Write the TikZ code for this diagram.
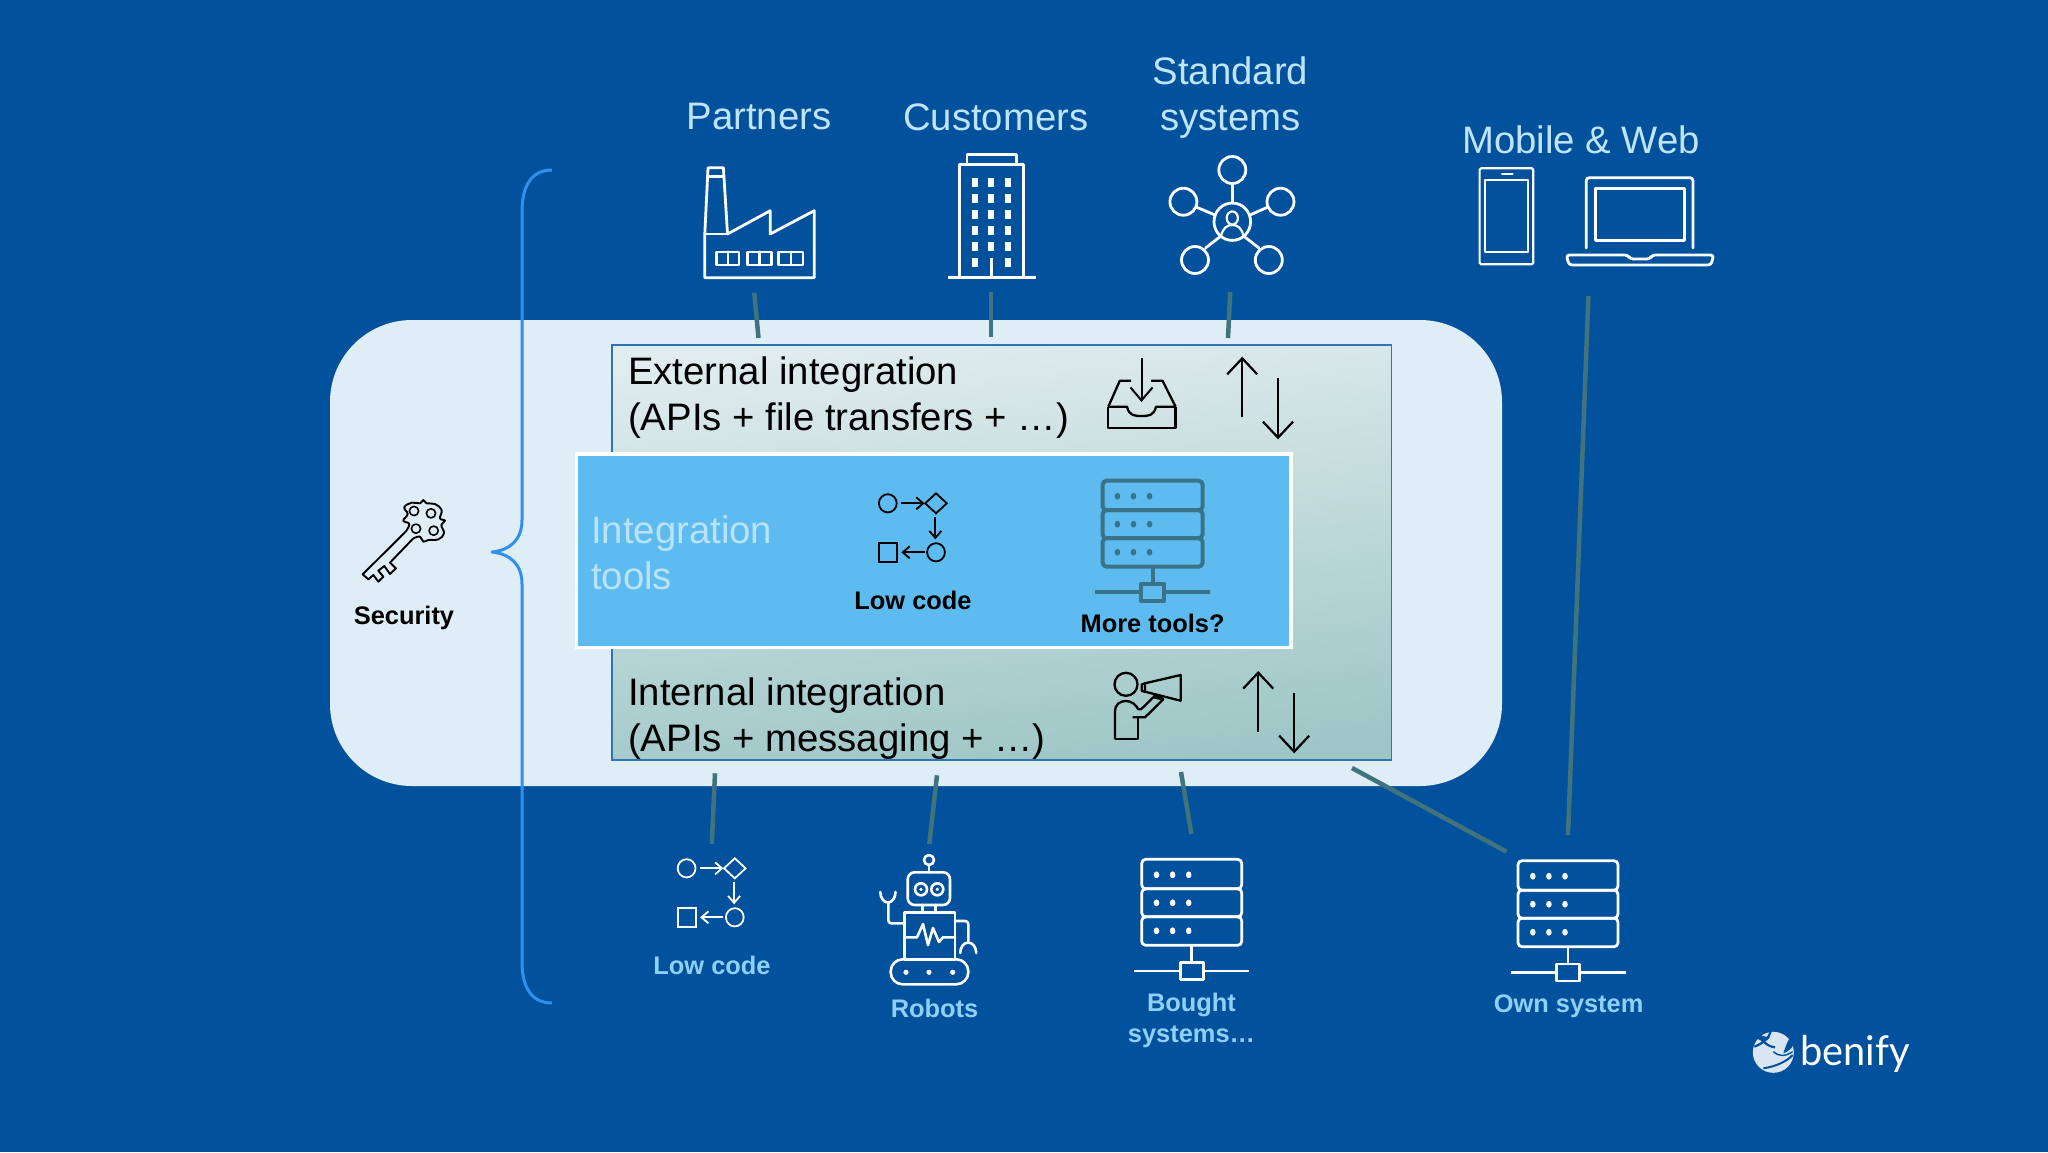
\documentclass[tikz,border=0pt]{standalone}
\usepackage{fontspec}
\setmainfont{Liberation Sans}
\newfontfamily\logofont{Lato}
\usetikzlibrary{arrows.meta}
\definecolor{bgblue}{HTML}{02519C}
\definecolor{panelc}{HTML}{DEEDF6}
\definecolor{innerblue}{HTML}{5EBBEF}
\definecolor{linkc}{HTML}{41737D}
\definecolor{bracec}{HTML}{2F90EE}
\definecolor{toptext}{HTML}{BFE4FB}
\definecolor{lowtext}{HTML}{8FD0F8}
\definecolor{inttext}{HTML}{B9E3F9}
\definecolor{srvteal}{HTML}{3A7387}
\definecolor{framec}{HTML}{2E75B6}
\definecolor{gradtop}{RGB}{224,236,237}
\definecolor{gradbot}{RGB}{158,198,198}
\tikzset{
  big/.style={font=\fontsize{38.3}{46}\selectfont,inner sep=0pt,align=center},
  small/.style={font=\bfseries\fontsize{25.4}{30.5}\selectfont,inner sep=0pt,align=center},
  link/.style={draw=linkc,line width=4.5pt},
  wicon/.style={color=white,line width=2.8pt,line join=round,line cap=round},
  kicon/.style={color=black,line width=2.3pt,line join=round},
  sicon/.style={color=srvteal,line width=4pt,line join=round},
  flowW/.style={color=white,line width=1.8pt},
  flowK/.style={color=black,line width=1.8pt},
  updown/.style={color=black,line width=2.2pt,-{Straight Barb[length=16pt,width=30pt,line width=2.2pt]}},
  smallarrow/.style={-{Straight Barb[length=7pt,width=12pt]}},
}
% server icon: origin = centre x, top y
\newcommand{\srvicon}{%
  \draw[rounded corners=4pt] (-50,0) rectangle (50,29.5);
  \draw[rounded corners=4pt] (-50,29.5) rectangle (50,57.5);
  \draw[rounded corners=4pt] (-50,57.5) rectangle (50,86);
  \foreach \yy in {15.5,43.5,71.5}{\foreach \xx in {-35.2,-19.1,-3}{\fill (\xx,\yy) ellipse (2.8pt and 3.4pt);}}
  \draw (0,86) -- (0,103.3);
  \draw (-57.5,111.6) -- (-11.5,111.6) (11.5,111.6) -- (57.5,111.6);
  \draw (-11.5,103.3) rectangle (11.5,120.3);
}
% flow icon: origin at first circle centre
\newcommand{\flowicon}{%
  \draw (0,0) ellipse (8.9pt and 9.1pt);
  \draw[smallarrow] (13.5,0) -- (36.8,0);
  \draw (48.2,-10) -- (59,0) -- (48.2,10) -- (37.4,0) -- cycle;
  \draw[smallarrow] (47.5,13.4) -- (47.5,36);
  \draw (48.2,49) ellipse (8.9pt and 9.1pt);
  \draw[smallarrow] (36.8,49) -- (13.5,49);
  \draw (-8.8,39.4) rectangle (9,58.4);
}
\begin{document}
\begin{tikzpicture}[x=1pt,y=-1pt]
\useasboundingbox (0,0) rectangle (2048,1152);
\fill[bgblue] (0,0) rectangle (2048,1152);
% central panel
\path[fill=panelc,rounded corners=82pt] (330,320) rectangle (1502,786);
% gradient frame
\shade[top color=gradtop,bottom color=gradbot,shading angle=6]
  (612,345) rectangle (1391.5,760);
\draw[framec,line width=1.4pt] (612,345) rectangle (1391.5,760);
% inner blue box
\node[draw=white,fill=innerblue,line width=3.5pt,minimum width=714.5pt,minimum height=193.5pt,inner sep=0pt,outer sep=0pt,anchor=north west] (toolsbox) at (576.5,454) {};
% brace
\draw[bracec,line width=3pt,line join=round] (552,170) .. controls (532,170) and (522,185) .. (522,212) -- (522,520)
  .. controls (522,540) and (510,550) .. (492,552) .. controls (510,554) and (522,564) .. (522,584)
  -- (522,962) .. controls (522,988) and (532,1003) .. (552,1003);
% coordinates for connector ends
\coordinate (pA) at (754.3,293); \coordinate (pB) at (758.5,338);
\coordinate (cA) at (991,292); \coordinate (cB) at (991,337);
\coordinate (sA) at (1230.2,292); \coordinate (sB) at (1228,338);
\coordinate (mA) at (1588.4,296); \coordinate (mB) at (1568,835);
\coordinate (lA) at (715,773.3); \coordinate (lB) at (711.8,844);
\coordinate (rA) at (937,775.3); \coordinate (rB) at (929.3,844);
\coordinate (bA) at (1181,772); \coordinate (bB) at (1191.4,834);
\coordinate (oA) at (1352,768); \coordinate (oB) at (1506.5,851.7);
\draw[link] (pA) -- (pB);
\draw[link] (cA) -- (cB);
\draw[link] (sA) -- (sB);
\draw[link] (mA) -- (mB);
\draw[link] (lA) -- (lB);
\draw[link] (rA) -- (rB);
\draw[link] (bA) -- (bB);
\draw[link] (oA) -- (oB);
% top labels
\node[big,toptext,anchor=base] (partners) at (759,129) {Partners};
\node[big,toptext,anchor=base] (customers) at (995.8,130) {Customers};
\node[big,toptext,anchor=base] (standard) at (1230.5,130) {Standard\\systems};
\node[big,toptext,anchor=base] (mobile) at (1581,153) {Mobile \& Web};
% frame texts
\node[big,black,align=left,anchor=base west] (ext) at (628,430) {External integration\\(APIs + file transfers + …)};
\node[big,black,align=left,anchor=base west] (int) at (628,751) {Internal integration\\(APIs + messaging + …)};
\node[big,inttext,align=left,anchor=base west] (tools) at (591,589) {Integration\\tools};
% small labels
\node[small,black,anchor=base] (security) at (404,624) {Security};
\node[small,black,anchor=base] (lowcodeA) at (913,609) {Low code};
\node[small,black,anchor=base] (more) at (1152.6,632) {More tools?};
\node[small,lowtext,anchor=base] (lowcodeB) at (712,974) {Low code};
\node[small,lowtext,anchor=base] (robots) at (934.5,1017) {Robots};
\node[small,lowtext,anchor=base] (bought) at (1191.5,1042) {Bought\\systems…};
\node[small,lowtext,anchor=base] (own) at (1568.6,1012) {Own system};
% factory
\begin{scope}[wicon]
\draw (727.5,234) -- (723.4,167.7) -- (708,167.7) -- (704.8,234) -- (704.8,277.7) -- (814.3,277.7) -- (814.3,210.7) -- (770.2,234) -- (770.2,210.7) -- (727.5,234) -- cycle;
\draw (705.5,234) -- (727.5,234) (707.5,176.7) -- (723.8,176.7);
\draw[line width=2.4pt] (716.5,251.7) rectangle (739.2,265) (727.8,251.7) -- (727.8,265);
\draw[line width=2.4pt] (747.5,251.7) rectangle (771.6,265) (759.5,251.7) -- (759.5,265);
\draw[line width=2.4pt] (778.5,251.7) rectangle (803.2,265) (790.8,251.7) -- (790.8,265);
\end{scope}
% building
\begin{scope}[wicon]
\draw (959.6,277.7) -- (959.6,164.3) -- (1023.6,164.3) -- (1023.6,277.7);
\draw (967,164.3) -- (967,154.3) -- (1016.8,154.3) -- (1016.8,164.3);
\draw[line width=3.4pt,line cap=butt] (947.9,277.7) -- (1036,277.7);
\draw[line width=3.4pt,line cap=butt] (991.3,258) -- (991.3,277.7);
\foreach \yy in {182.7,198.7,214.7,230.7,246.7,262.7}{
  \fill (972.4,\yy-4.7) rectangle (978.4,\yy+4.7);
  \fill (1004.8,\yy-4.7) rectangle (1010.8,\yy+4.7);}
\foreach \yy in {182.7,198.7,214.7,230.7,246.7}{
  \fill (988.3,\yy-4.7) rectangle (994.3,\yy+4.7);}
\end{scope}
% network
\begin{scope}[wicon]
\draw (1232.3,221.7) ellipse (18.3pt and 18.7pt);
\foreach \cx/\cy in {1232.3/170,1183.4/201.7,1280.5/201.7,1195/260,1268.8/260}{\draw (\cx,\cy) circle (13.5pt);}
\draw (1232.3,184) -- (1232.3,203);
\draw (1196,207) -- (1215,215);
\draw (1268,207) -- (1250,215);
\draw (1205.5,248) -- (1221,236);
\draw (1259,248) -- (1243.5,236);
\draw[line width=2.2pt] (1232.3,218) ellipse (5.6pt and 6.6pt);
\draw[line width=2.2pt] (1221,236) .. controls (1223,228) and (1227,225) .. (1232.3,225) .. controls (1238,225) and (1241.5,228) .. (1243.5,236);
\end{scope}
% phone and laptop
\begin{scope}[wicon,line width=2.2pt]
\draw[rounded corners=1.5pt] (1479.6,168.3) rectangle (1533.3,264.3);
\draw (1485,180) rectangle (1527.8,251.7);
\draw (1502,174) -- (1512.5,174);
\draw[line width=2.8pt] (1586.3,248) -- (1586.3,181) [rounded corners=3pt] -- (1586.3,177.7) -- (1693,177.7) -- (1693,248);
\draw[line width=2.8pt] (1595.3,188.3) rectangle (1684.8,240.7);
\draw[line width=2.8pt,rounded corners=3pt] (1566.3,255) -- (1628,255) -- (1630,259) -- (1650,259) -- (1652,255) -- (1713.7,255) -- (1711,265) -- (1569,265) -- cycle;
\end{scope}
% inbox
\begin{scope}[kicon]
\draw (1108.3,406.7) -- (1108.3,428.3) -- (1175.6,428.3) -- (1175.6,406.7);
\draw (1108.3,406.7) -- (1119.8,380.7) -- (1131,380.7);
\draw (1175.6,406.7) -- (1162.5,380.7) -- (1151,380.7);
\draw (1108.3,406.7) -- (1127,406.7) .. controls (1129,416) and (1135,416) .. (1141.5,416) .. controls (1148,416) and (1154,416) .. (1156,406.7) -- (1175.6,406.7);
\draw[line width=2pt,-{Straight Barb[length=13pt,width=22pt,line width=2pt]}] (1141.5,358.3) -- (1141.5,402);
\end{scope}
% up down arrows
\coordinate (uA) at (1242.2,417.3); \coordinate (uB) at (1242.2,356.7);
\coordinate (dA) at (1278,378.3); \coordinate (dB) at (1278,439.3);
\coordinate (vA) at (1258.2,732.3); \coordinate (vB) at (1258.2,671);
\coordinate (wA) at (1294.2,692.7); \coordinate (wB) at (1294.2,753.3);
\draw[updown] (uA) -- (uB);
\draw[updown] (dA) -- (dB);
\draw[updown] (vA) -- (vB);
\draw[updown] (wA) -- (wB);
% megaphone person
\begin{scope}[kicon]
\draw (1126,684.3) circle (11.5pt);
\draw (1115,739.3) -- (1115,712) .. controls (1115,704) and (1120,701) .. (1126,701) .. controls (1132,701) and (1136,705) .. (1138.3,709.3) -- (1141,709.3) -- (1153.3,697.3) -- (1163.3,699.3) -- (1145,717.3) -- (1132.7,717.3);
\draw (1137.7,717.3) -- (1137.7,739.3) -- (1115,739.3);
\draw (1145,683.3) -- (1180.7,675) -- (1180.7,700.7) -- (1145,691.7) -- cycle;
\draw (1145,683.3) -- (1141.7,684.5) -- (1141.7,691) -- (1145,691.7);
\draw (1153.5,695) -- (1163.5,699);
\end{scope}
% flow icons
\begin{scope}[shift={(887.8,503.3)},flowK] \flowicon \end{scope}
\begin{scope}[shift={(686.6,868.3)},flowW] \flowicon \end{scope}
% servers
\begin{scope}[shift={(1152.6,480.7)},sicon] \srvicon \end{scope}
\begin{scope}[shift={(1191.7,859.3)},wicon,line cap=butt] \srvicon \end{scope}
\begin{scope}[shift={(1568,860.7)},wicon,line cap=butt] \srvicon \end{scope}
% robot
\begin{scope}[wicon,line width=2.6pt]
\draw (929,860) circle (5pt);
\draw (929,865) -- (929,872.3);
\draw[rounded corners=7pt] (907.7,872.3) rectangle (950,905);
\draw (921,889.3) circle (6pt) (937.3,889.3) circle (6pt);
\fill (921,889.3) circle (1.8pt) (937.3,889.3) circle (1.8pt);
\draw (922.3,905) -- (922.3,912.7) (935.7,905) -- (935.7,912.7);
\draw (904.3,912.7) rectangle (955,959.3);
\draw (904.3,937.3) -- (917,937.3) -- (923,924) -- (928,945) -- (933,928) -- (939,942) -- (943,937.3) -- (955,937.3);
\draw[rounded corners=12pt] (890.7,959.3) rectangle (968.3,984.3);
\foreach \xx in {906,929,952.7}{\fill (\xx,972.3) circle (2.6pt);}
\draw (904.3,923.3) -- (892,923.3) [rounded corners=3pt] -- (888.3,923.3) -- (888.3,903);
\draw (880.3,892) arc[start angle=180,end angle=360,x radius=7.6pt,y radius=10.5pt];
\draw (955,921) -- (964,921) [rounded corners=3pt] -- (968.3,921) -- (968.3,942);
\draw (960.2,953) arc[start angle=180,end angle=0,x radius=8pt,y radius=10.5pt];
\end{scope}
% key
\begin{scope}[color=black,line width=1.9pt,line join=round,shift={(340,480)},x=0.3333pt,y=-0.3333pt]
\draw plot[smooth,tension=0.7] coordinates {(197,155) (208,132) (190,122) (203,102) (193,82) (215,68) (240,70) (250,60) (260,70) (285,72) (305,90) (300,115) (315,122) (304,135) (312,160) (295,178) (265,180) (250,185) (240,170) (220,175)};
\draw (197,155) -- (68,283) -- (85,298) -- (100,285) -- (115,305) -- (130,290) -- (115,272) -- (133,258) -- (150,282) -- (168,265) -- (150,248) -- (220,175);
\draw[line width=1.6pt] (222,93) circle (4.6pt) (273,100) circle (4.6pt) (228,146) circle (4.6pt) (281,152) circle (4.6pt);
\end{scope}
% logo
\begin{scope}[shift={(1720,1010)},x=0.3333pt,y=-0.3333pt]
\fill[white!85!bgblue] (160,127) ellipse (20.5pt and 20.5pt);
\draw[bgblue,line width=2.2pt] (103,110) .. controls (130,100) and (145,85) .. (152,66);
\draw[bgblue,line width=2.2pt] (118,78) .. controls (125,95) and (150,112) .. (165,112);
\fill[bgblue] (110,85) .. controls (125,95) and (140,98) .. (150,82) .. controls (135,80) and (125,78) .. (118,72) -- cycle;
\fill[bgblue] (220,105) .. controls (215,115) and (205,125) .. (190,130) .. controls (195,115) and (200,100) .. (208,85) -- cycle;
\draw[bgblue,line width=2pt] (130,175) .. controls (165,170) and (200,155) .. (218,135);
\draw[bgblue,line width=1.4pt] (160,125) .. controls (175,140) and (195,140) .. (218,125);
\end{scope}
\node[font=\logofont\fontsize{41}{41}\selectfont,white,inner sep=0pt,anchor=base west,xscale=0.97] (benify) at (1800,1065.7) {benify};
\end{tikzpicture}
\end{document}
